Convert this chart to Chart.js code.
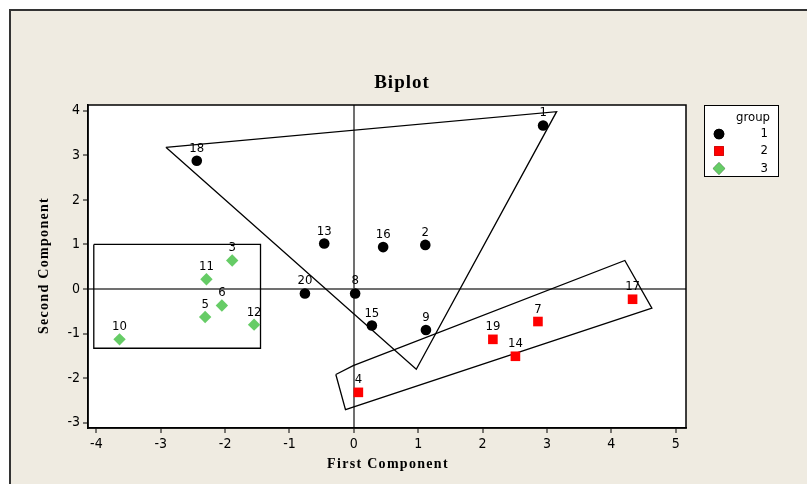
<!DOCTYPE html>
<html>
<head>
<meta charset="utf-8">
<script src="https://cdn.jsdelivr.net/npm/chart.js@4.4.0/dist/chart.umd.min.js"></script>
<style>
html, body { margin: 0; padding: 0; background: #fff; }
</style>
</head>
<body>
<canvas id="biplot" width="807" height="484"></canvas>
<script>
const obsLabels = ['1','2','3','4','5','6','7','8','9','10','11','12','13','14','15','16','17','18','19','20'];
const firstComp = [2.94, 1.11, -1.89, 0.07, -2.31, -2.05, 2.86, 0.02, 1.12, -3.64, -2.29, -1.55, -0.46, 2.51, 0.28, 0.455, 4.33, -2.44, 2.16, -0.76];
const secondComp = [3.67, 0.99, 0.64, -2.32, -0.63, -0.37, -0.73, -0.10, -0.92, -1.13, 0.22, -0.80, 1.02, -1.51, -0.82, 0.94, -0.23, 2.88, -1.13, -0.10];
const groupOf = [1, 1, 3, 2, 3, 3, 2, 1, 1, 3, 3, 3, 1, 2, 1, 1, 2, 1, 2, 1];
const groupNames = ['1', '2', '3'];

// outlines drawn around each group
const hull1X = [-2.92, 3.15, 0.97, -2.92];
const hull1Y = [3.18, 3.98, -1.80, 3.18];
const hull2X = [-0.28, -0.01, 4.21, 4.63, -0.13, -0.28];
const hull2Y = [-1.92, -1.72, 0.64, -0.43, -2.71, -1.92];
const hull3X = [-4.04, -1.45, -1.45, -4.04, -4.04];
const hull3Y = [1.00, 1.00, -1.33, -1.33, 1.00];

const xTicks = [-4, -3, -2, -1, 0, 1, 2, 3, 4, 5];
const yTicks = [-3, -2, -1, 0, 1, 2, 3, 4];

const groupColors = ['#000000', '#ff0000', '#66cc66'];
const groupStyles = ['circle', 'rect', 'rectRot'];
const groupRadius = [5.3, 6.8, 6.2];

const labelFont = "13px 'DejaVu Sans Condensed', 'DejaVu Sans', sans-serif";
const tickFont = { family: "'DejaVu Sans Condensed', 'DejaVu Sans', sans-serif", size: 14 };
const serif = "'Liberation Serif', 'Times New Roman', serif";

function groupPoints(g) {
    const pts = [];
    for (let i = 0; i < obsLabels.length; i++) {
        if (groupOf[i] === g) pts.push({ x: firstComp[i], y: secondComp[i], label: obsLabels[i] });
    }
    return pts;
}
function outline(xs, ys) {
    return xs.map((x, i) => ({ x: x, y: ys[i] }));
}

const pointSets = [1, 2, 3].map((g, i) => ({
    label: groupNames[i],
    data: groupPoints(g),
    pointStyle: groupStyles[i],
    pointRadius: groupRadius[i],
    pointHoverRadius: groupRadius[i],
    backgroundColor: groupColors[i],
    borderColor: groupColors[i],
    borderWidth: 0,
    order: 0,
}));
const hullSets = [[hull1X, hull1Y], [hull2X, hull2Y], [hull3X, hull3Y]].map(h => ({
    label: 'outline',
    data: outline(h[0], h[1]),
    showLine: true,
    pointRadius: 0,
    borderColor: '#000',
    borderWidth: 1.3,
    fill: false,
    tension: 0,
    order: 1,
}));

const framePlugin = {
    id: 'frame',
    beforeDraw(chart) {
        const ctx = chart.ctx;
        const a = chart.chartArea;
        ctx.save();
        ctx.fillStyle = '#ffffff';
        ctx.fillRect(0, 0, chart.width, chart.height);
        ctx.fillStyle = '#efebe1';
        ctx.fillRect(9, 9, chart.width, chart.height);
        ctx.strokeStyle = '#333333';
        ctx.lineWidth = 2;
        ctx.beginPath();
        ctx.moveTo(10, chart.height);
        ctx.lineTo(10, 10);
        ctx.lineTo(chart.width, 10);
        ctx.stroke();
        ctx.fillStyle = '#ffffff';
        ctx.fillRect(a.left, a.top, a.right - a.left, a.bottom - a.top);
        ctx.restore();
    },
    afterDatasetsDraw(chart) {
        const ctx = chart.ctx;
        const a = chart.chartArea;
        ctx.save();
        // observation numbers above each point
        ctx.font = labelFont;
        ctx.fillStyle = '#000';
        ctx.textAlign = 'center';
        ctx.textBaseline = 'alphabetic';
        for (let d = 0; d < 3; d++) {
            const meta = chart.getDatasetMeta(d);
            meta.data.forEach((el, i) => {
                ctx.fillText(chart.data.datasets[d].data[i].label, el.x, el.y - 9);
            });
        }
        ctx.strokeStyle = '#000';
        ctx.lineWidth = 1.5;
        ctx.strokeRect(a.left, a.top, a.right - a.left, a.bottom - a.top);
        ctx.restore();
    },
    afterDraw(chart) {
        const ctx = chart.ctx;
        const a = chart.chartArea;
        ctx.save();
        ctx.fillStyle = '#000';
        ctx.textAlign = 'center';
        ctx.textBaseline = 'middle';
        ctx.letterSpacing = '1px';
        ctx.font = 'bold 19px ' + serif;
        ctx.fillText('Biplot', 402, 83);
        ctx.letterSpacing = '1.3px';
        ctx.font = 'bold 14px ' + serif;
        ctx.fillText('First Component', (a.left + a.right) / 2 + 1, 464);
        ctx.translate(44, (a.top + a.bottom) / 2);
        ctx.rotate(-Math.PI / 2);
        ctx.fillText('Second Component', 1, 0);
        ctx.restore();

        // group legend
        ctx.save();
        ctx.fillStyle = '#fff';
        ctx.fillRect(704.5, 105.5, 74, 71);
        ctx.strokeStyle = '#000';
        ctx.lineWidth = 1;
        ctx.strokeRect(704.5, 105.5, 74, 71);
        ctx.fillStyle = '#000';
        ctx.font = labelFont;
        ctx.textBaseline = 'middle';
        ctx.textAlign = 'right';
        ctx.fillText('group', 770, 118);
        const rows = [134, 151, 168.5];
        for (let i = 0; i < 3; i++) {
            Chart.helpers.drawPoint(ctx, {
                pointStyle: groupStyles[i], radius: groupRadius[i], borderWidth: 0, rotation: 0
            }, 719, rows[i]);
            ctx.fillStyle = groupColors[i];
            ctx.fill();
            ctx.fillStyle = '#000';
            ctx.fillText(groupNames[i], 768, rows[i]);
        }
        ctx.restore();
    }
};

function zeroLine(c) {
    return c.tick && c.tick.value === 0 ? '#707070' : 'rgba(0,0,0,0)';
}

new Chart(document.getElementById('biplot'), {
    type: 'scatter',
    data: { datasets: pointSets.concat(hullSets) },
    options: {
        responsive: false,
        animation: false,
        devicePixelRatio: 1,
        layout: { padding: { top: 105, right: 121, left: 0, bottom: 0 } },
        plugins: {
            legend: { display: false },
            title: { display: false },
            tooltip: { enabled: false },
        },
        scales: {
            x: {
                type: 'linear',
                min: -4.13,
                max: 5.16,
                afterBuildTicks: s => { s.ticks = xTicks.map(v => ({ value: v })); },
                afterFit: s => { s.height = 56; },
                ticks: { font: tickFont, color: '#000', padding: 3, includeBounds: false, maxRotation: 0 },
                grid: { color: zeroLine, lineWidth: 2, tickColor: '#000', tickWidth: 1, tickLength: 5 },
                border: { display: true, color: '#000', width: 1.5 },
            },
            y: {
                type: 'linear',
                min: -3.12,
                max: 4.13,
                afterBuildTicks: s => { s.ticks = yTicks.map(v => ({ value: v })); },
                afterFit: s => { s.width = 88; },
                ticks: { font: tickFont, color: '#000', padding: 3, includeBounds: false },
                grid: { color: zeroLine, lineWidth: 2, tickColor: '#000', tickWidth: 1, tickLength: 5 },
                border: { display: true, color: '#000', width: 1.5 },
            },
        },
    },
    plugins: [framePlugin],
});
</script>
</body>
</html>
